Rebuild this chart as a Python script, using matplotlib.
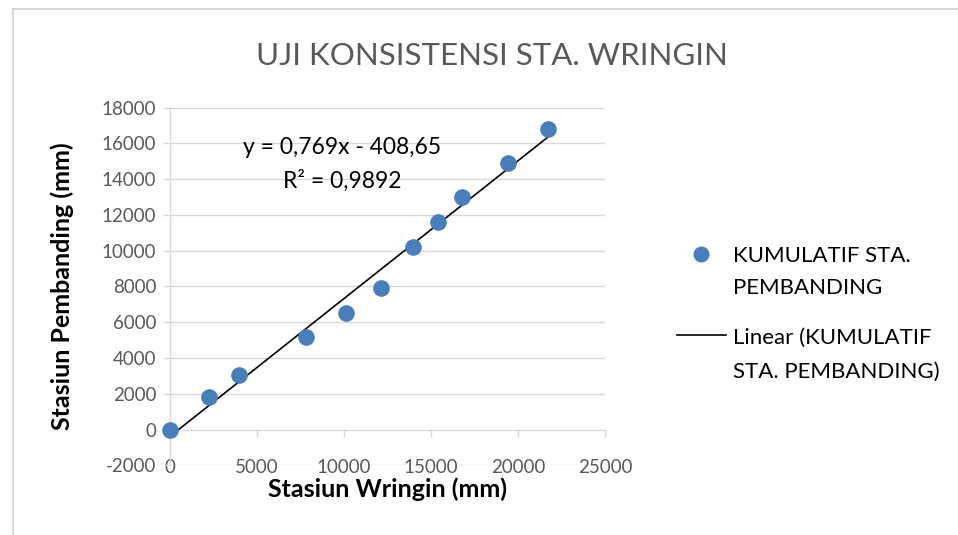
import numpy as np
import matplotlib.pyplot as plt
from matplotlib.lines import Line2D

# Cumulative rainfall: Wringin station vs. reference stations (mm)
kum_wringin = [0, 2260, 3950, 7800, 10090, 12140, 13960, 15400, 16760, 19410, 21710]
kum_pembanding = [0, 1840, 3060, 5200, 6490, 7890, 10190, 11590, 12990, 14920, 16800]

x_ticks = [0, 5000, 10000, 15000, 20000, 25000]
y_ticks = [-2000, 0, 2000, 4000, 6000, 8000, 10000, 12000, 14000, 16000, 18000]

title = 'UJI KONSISTENSI STA. WRINGIN'
eq_text = 'y = 0,769x - 408,65\nR² = 0,9892'
legend_points = ['KUMULATIF STA.', 'PEMBANDING']
legend_trend = ['Linear (KUMULATIF', 'STA. PEMBANDING)']

plt.rcParams['font.family'] = ['Lato', 'DejaVu Sans']

grid_color = '#d9d9d9'
text_gray = '#595959'
blue = '#4a7ebb'
W, H = 958, 535

fig = plt.figure(figsize=(9.58, 5.35), dpi=100)
ax = fig.add_axes([0.1775, 0.1303, 0.4540, 0.6684])

x = np.array(kum_wringin, dtype=float)
y = np.array(kum_pembanding, dtype=float)
slope, intercept = np.polyfit(x, y, 1)
xs = np.array([0, x.max()])

ax.scatter(x, y, s=120, color=blue, zorder=4, clip_on=False)
ax.plot(xs, slope * xs + intercept, color='black', lw=1.2, zorder=3)

ax.set_xlim(0, 25000)
ax.set_ylim(-2000, 18000)
ax.set_xticks(x_ticks)
ax.set_yticks(y_ticks)
ax.set_xticklabels([str(v) for v in x_ticks])
ax.set_yticklabels([str(v) for v in y_ticks])

for v in y_ticks:
    if v != 0:
        ax.axhline(v, color=grid_color, lw=1.0, zorder=1)

for s in ['top', 'right']:
    ax.spines[s].set_visible(False)
ax.spines['bottom'].set_position(('data', 0))
ax.spines['bottom'].set_color(grid_color)
ax.spines['left'].set_color(grid_color)
ax.spines['bottom'].set_linewidth(1.0)
ax.spines['left'].set_linewidth(1.0)

ax.tick_params(axis='x', direction='out', length=5, width=1.0, color=grid_color,
               labelcolor=text_gray, labelsize=13.5, pad=16)
ax.tick_params(axis='y', direction='out', length=5, width=1.0, color=grid_color,
               labelcolor=text_gray, labelsize=13.5, pad=5)

ax.set_xlabel('Stasiun Wringin (mm)', fontsize=18, fontweight='bold', labelpad=1)
ax.set_ylabel('Stasiun Pembanding (mm)', fontsize=18, fontweight='bold', labelpad=20)

ax.text(0.395, 0.842, eq_text, transform=ax.transAxes, ha='center', va='center',
        fontsize=16.5, linespacing=1.65, color='black')

fig.text(0.514, 0.895, title, ha='center', va='center', fontsize=22.5,
         color=text_gray)

# legend, keys aligned with the first line of each entry (Excel style)
fig.add_artist(Line2D([701 / W], [1 - 254 / H], transform=fig.transFigure,
                      ls='none', marker='o', ms=10.5, color=blue))
fig.add_artist(Line2D([677 / W, 726 / W], [1 - 335 / H, 1 - 335 / H],
                      transform=fig.transFigure, color='black', lw=1.2))
for i, line in enumerate(legend_points):
    fig.text(733 / W, 1 - (254 + 32 * i) / H, line, ha='left', va='center_baseline',
             fontsize=16, color='black')
for i, line in enumerate(legend_trend):
    fig.text(733 / W, 1 - (336 + 34 * i) / H, line, ha='left', va='center_baseline',
             fontsize=16, color='black')

# chart area border (top and left edges)
fig.add_artist(Line2D([13 / W, 1], [1 - 9 / H, 1 - 9 / H],
                      transform=fig.transFigure, color='#d0d0d0', lw=1.2))
fig.add_artist(Line2D([13 / W, 13 / W], [0, 1 - 9 / H],
                      transform=fig.transFigure, color='#d0d0d0', lw=1.2))

fig.savefig('out.png', dpi=100)
